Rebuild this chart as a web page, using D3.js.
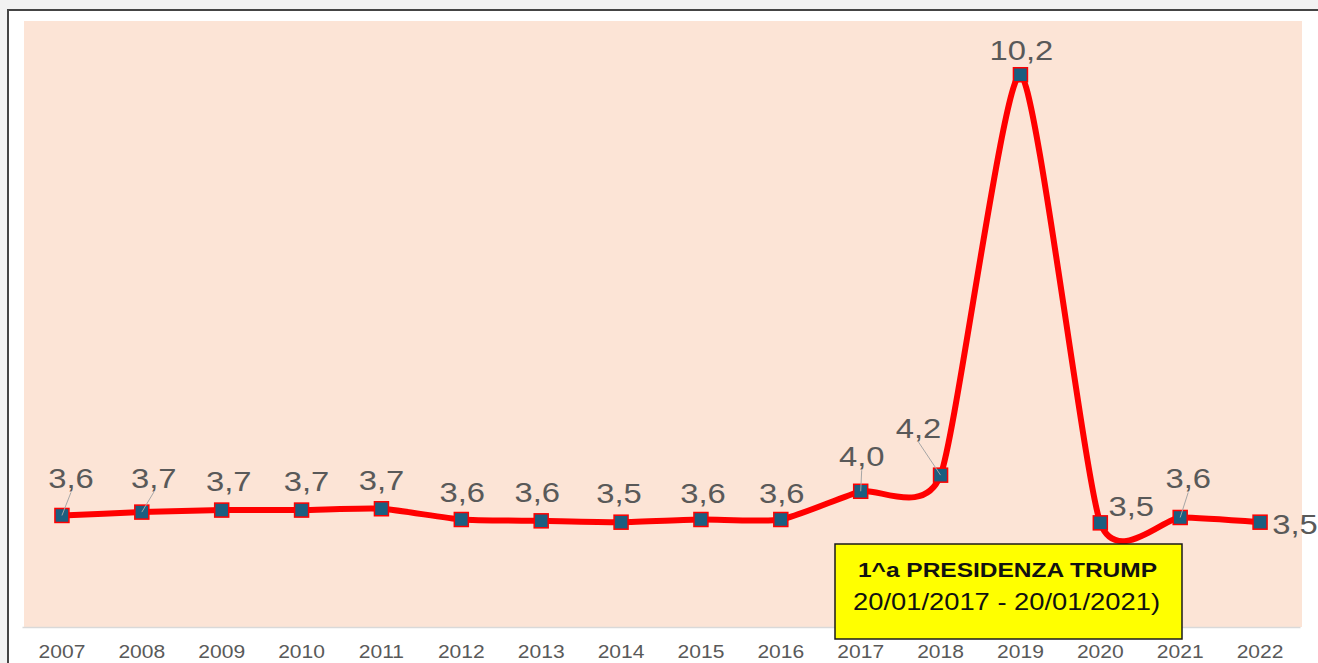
<!DOCTYPE html>
<html>
<head>
<meta charset="utf-8">
<script src="https://cdn.jsdelivr.net/npm/d3@7"></script>
<style>
	html, body { margin: 0; padding: 0; background: #f2f2f2; overflow: hidden; }
	#chart { width: 1318px; height: 663px; }
</style>
</head>
<body>
<div id="chart"></div>
<script>
document.addEventListener("DOMContentLoaded", init, false);

var years = ['2007', '2008', '2009', '2010', '2011', '2012', '2013', '2014',
	'2015', '2016', '2017', '2018', '2019', '2020', '2021', '2022'];
var rates = [3.64, 3.69, 3.72, 3.72, 3.74, 3.58, 3.56, 3.54,
	3.58, 3.58, 4.00, 4.24, 10.20, 3.53, 3.61, 3.54];
var boxTitle = '1^a PRESIDENZA TRUMP';
var boxSubtitle = '20/01/2017 - 20/01/2021)';

// where each data label sits relative to its marker (label was dragged in the original)
var labelOffsets = [
	[9, -37, true], [12, -34, true], [7, -29, false], [5, -29, false],
	[0, -29, false], [1, -27, false], [-4, -29, false], [-2, -29, false],
	[2, -26, false], [1, -26, false], [1, -35, true], [-22, -47, true],
	[1, -25, false], [31, -17, false], [8, -39, true], [35, 2, false]
];

var stretch = 1.17;

/**
 * put a horizontally stretched label at x, y (baseline)
 **/
function stretchedText(g, x, y, txt) {
	return g.append('text')
		.attr('transform', 'translate(' + x + ',' + y + ') scale(' + stretch + ',1)')
		.attr('text-anchor', 'middle')
		.text(txt);
}

function init() {
	var width = 1318, height = 663;
	var svg = d3.select('#chart').append('svg')
		.attr('width', width)
		.attr('height', height)
		.style('font-family', '"Liberation Sans", Arial, sans-serif');

	// chart frame
	svg.append('rect')
		.attr('x', 8).attr('y', 10)
		.attr('width', 1400).attr('height', 700)
		.attr('fill', '#ffffff')
		.attr('stroke', '#444444')
		.attr('stroke-width', 2);

	// plot area
	svg.append('rect')
		.attr('x', 24).attr('y', 21)
		.attr('width', 1278).attr('height', 606)
		.attr('fill', '#fce4d6');

	var x = d3.scaleBand().domain(years).range([22, 1300]);
	var y = d3.scaleLinear().domain([1.95, 11]).range([629, 21]);
	var cx = function(d, i) { return x(years[i]) + x.bandwidth() / 2; };

	// category axis
	var xAxis = svg.append('g')
		.attr('transform', 'translate(0,627)')
		.call(d3.axisBottom(x).tickSize(0).tickPadding(0));
	xAxis.select('.domain').attr('stroke', '#d9d9d9').attr('stroke-width', 1.5);
	xAxis.selectAll('.tick text').remove();
	xAxis.selectAll('.tick').each(function(d) {
		stretchedText(d3.select(this), 0, 31, d)
			.attr('font-size', 18)
			.attr('fill', '#595959');
	});

	// smoothed line
	var line = d3.line()
		.x(cx)
		.y(function(d) { return y(d); })
		.curve(d3.curveCardinal.tension(0.4));

	svg.append('path')
		.datum(rates)
		.attr('d', line)
		.attr('fill', 'none')
		.attr('stroke', '#ff0000')
		.attr('stroke-width', 6)
		.attr('stroke-linejoin', 'round');

	// markers
	svg.selectAll('rect.marker')
		.data(rates)
		.enter().append('rect')
		.attr('class', 'marker')
		.attr('x', function(d, i) { return cx(d, i) - 7; })
		.attr('y', function(d) { return y(d) - 7; })
		.attr('width', 14).attr('height', 14)
		.attr('fill', '#1b5e80')
		.attr('stroke', '#ff0000')
		.attr('stroke-width', 1.5);

	// data labels with leader lines
	var fmt = d3.format('.1f');
	var labels = svg.append('g')
		.attr('font-size', 28)
		.attr('fill', '#595959');
	rates.forEach(function(d, i) {
		var px = cx(d, i), py = y(d);
		var off = labelOffsets[i];
		var lx = px + off[0], ly = py + off[1];
		if (off[2]) {
			svg.append('line')
				.attr('x1', lx).attr('y1', ly + 14)
				.attr('x2', px).attr('y2', py)
				.attr('stroke', '#a6a6a6')
				.attr('stroke-width', 1);
		}
		stretchedText(labels, lx, ly + 10, fmt(d).replace('.', ','));
	});

	// annotation box
	var box = svg.append('g');
	box.append('rect')
		.attr('x', 835).attr('y', 544)
		.attr('width', 347).attr('height', 95)
		.attr('fill', '#ffff00')
		.attr('stroke', '#1a1a1a')
		.attr('stroke-width', 1.5);
	box.append('text')
		.attr('x', 858).attr('y', 577)
		.attr('font-size', 21)
		.attr('font-weight', 'bold')
		.attr('fill', '#111111')
		.attr('textLength', 299)
		.attr('lengthAdjust', 'spacingAndGlyphs')
		.text(boxTitle);
	box.append('text')
		.attr('x', 853).attr('y', 610)
		.attr('font-size', 24)
		.attr('fill', '#111111')
		.attr('textLength', 307)
		.attr('lengthAdjust', 'spacingAndGlyphs')
		.text(boxSubtitle);
}
</script>
</body>
</html>
